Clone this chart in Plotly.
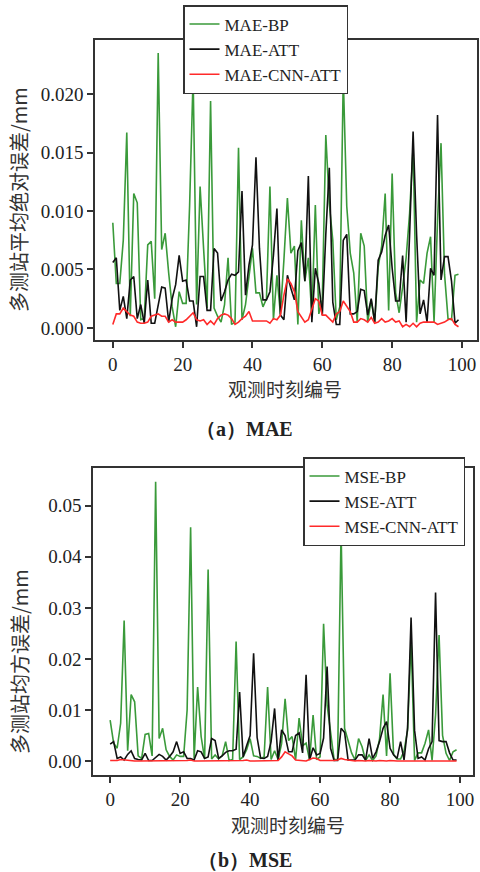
import plotly.graph_objects as go

x_idx = list(range(100))

mae_bp = [0.0090,0.0038,0.0038,0.0075,0.0167,0.0010,0.0115,0.0107,0.0007,0.0008,
          0.0071,0.0074,0.0025,0.0235,0.0067,0.0081,0.0047,0.0018,0.0001,0.0031,
          0.0021,0.0021,0.0105,0.0215,0.0020,0.0121,0.0068,0.0017,0.0194,0.0017,
          0.0010,0.0005,0.0020,0.0060,0.0003,0.0005,0.0154,0.0007,0.0020,0.0045,
          0.0068,0.0030,0.0030,0.0018,0.0025,0.0121,0.0007,0.0045,0.0012,0.0058,
          0.0111,0.0064,0.0070,0.0003,0.0092,0.0040,0.0060,0.0010,0.0105,0.0012,
          0.0024,0.0165,0.0106,0.0075,0.0007,0.0018,0.0215,0.0104,0.0064,0.0047,
          0.0005,0.0081,0.0070,0.0005,0.0024,0.0005,0.0052,0.0070,0.0115,0.0015,
          0.0132,0.0030,0.0013,0.0035,0.0060,0.0098,0.0155,0.0005,0.0041,0.0038,
          0.0064,0.0078,0.0005,0.0092,0.0158,0.0046,0.0008,0.0007,0.0045,0.0046]

mae_att = [0.0056,0.0060,0.0015,0.0027,0.0008,0.0041,0.0044,0.0008,0.0020,0.0004,
           0.0041,0.0004,0.0004,0.0020,0.0035,0.0034,0.0005,0.0025,0.0037,0.0062,
           0.0040,0.0041,0.0023,0.0023,0.0001,0.0044,0.0044,0.0015,0.0015,0.0068,
           0.0064,0.0023,0.0031,0.0041,0.0046,0.0045,0.0048,0.0117,0.0028,0.0054,
           0.0071,0.0146,0.0068,0.0024,0.0024,0.0031,0.0062,0.0102,0.0011,0.0007,
           0.0045,0.0034,0.0024,0.0066,0.0073,0.0040,0.0130,0.0005,0.0051,0.0038,
           0.0011,0.0080,0.0137,0.0022,0.0003,0.0003,0.0075,0.0080,0.0012,0.0012,
           0.0014,0.0033,0.0032,0.0011,0.0025,0.0005,0.0058,0.0065,0.0079,0.0088,
           0.0051,0.0023,0.0023,0.0062,0.0005,0.0080,0.0168,0.0080,0.0012,0.0024,
           0.0005,0.0051,0.0045,0.0182,0.0041,0.0061,0.0061,0.0040,0.0004,0.0007]

mae_cnn_att = [0.0003,0.0012,0.0012,0.0017,0.0014,0.0011,0.0010,0.0005,0.0004,0.0004,
               0.0005,0.0010,0.0011,0.0012,0.0010,0.0010,0.0005,0.0007,0.0005,0.0005,
               0.0005,0.0007,0.0010,0.0013,0.0007,0.0006,0.0007,0.0003,0.0006,0.0003,
               0.0008,0.0011,0.0012,0.0011,0.0008,0.0003,0.0005,0.0008,0.0010,0.0014,
               0.0006,0.0006,0.0006,0.0006,0.0006,0.0004,0.0008,0.0007,0.0011,0.0028,
               0.0042,0.0038,0.0031,0.0014,0.0010,0.0005,0.0007,0.0017,0.0025,0.0023,
               0.0011,0.0011,0.0008,0.0005,0.0012,0.0014,0.0023,0.0018,0.0014,0.0005,
               0.0005,0.0008,0.0007,0.0005,0.0009,0.0004,0.0005,0.0008,0.0005,0.0006,
               0.0008,0.0005,0.0006,0.0001,0.0003,0.0001,0.0004,0.0001,0.0004,0.0005,
               0.0005,0.0005,0.0005,0.0003,0.0004,0.0005,0.0007,0.0008,0.0003,0.0001]

mse_bp = [0.0080,0.0035,0.0025,0.0074,0.0275,0.0020,0.0130,0.0116,0.0010,0.0005,
          0.0052,0.0054,0.0010,0.0547,0.0044,0.0064,0.0022,0.0009,0.0002,0.0012,
          0.0009,0.0009,0.0100,0.0458,0.0005,0.0145,0.0048,0.0004,0.0375,0.0004,
          0.0012,0.0004,0.0010,0.0038,0.0001,0.0003,0.0234,0.0003,0.0008,0.0022,
          0.0044,0.0010,0.0009,0.0005,0.0008,0.0145,0.0003,0.0020,0.0003,0.0034,
          0.0122,0.0040,0.0048,0.0002,0.0084,0.0030,0.0035,0.0002,0.0090,0.0003,
          0.0008,0.0269,0.0110,0.0056,0.0003,0.0003,0.0453,0.0064,0.0038,0.0016,
          0.0002,0.0044,0.0028,0.0001,0.0012,0.0001,0.0010,0.0044,0.0130,0.0010,
          0.0172,0.0013,0.0004,0.0004,0.0020,0.0060,0.0237,0.0001,0.0016,0.0016,
          0.0035,0.0061,0.0001,0.0090,0.0247,0.0050,0.0015,0.0001,0.0018,0.0022]

mse_att = [0.0033,0.0038,0.0005,0.0008,0.0002,0.0013,0.0020,0.0005,0.0003,0.0002,
           0.0015,0.0001,0.0001,0.0008,0.0013,0.0009,0.0002,0.0009,0.0018,0.0038,
           0.0015,0.0018,0.0005,0.0005,0.0002,0.0020,0.0018,0.0005,0.0008,0.0044,
           0.0040,0.0005,0.0010,0.0017,0.0020,0.0020,0.0023,0.0135,0.0008,0.0030,
           0.0050,0.0211,0.0046,0.0006,0.0005,0.0009,0.0038,0.0103,0.0002,0.0061,
           0.0050,0.0018,0.0018,0.0050,0.0055,0.0016,0.0169,0.0002,0.0026,0.0012,
           0.0015,0.0045,0.0185,0.0025,0.0001,0.0001,0.0064,0.0056,0.0002,0.0002,
           0.0002,0.0012,0.0012,0.0002,0.0044,0.0005,0.0018,0.0038,0.0064,0.0077,
           0.0025,0.0012,0.0005,0.0038,0.0002,0.0065,0.0281,0.0060,0.0005,0.0008,
           0.0002,0.0024,0.0038,0.0330,0.0040,0.0038,0.0038,0.0016,0.0002,0.0002]

mse_cnn_att = [0.0001,0.0001,0.0001,0.0003,0.0002,0.0001,0.0001,0.0000,0.0000,0.0000,
               0.0000,0.0001,0.0001,0.0001,0.0001,0.0001,0.0000,0.0000,0.0000,0.0000,
               0.0000,0.0000,0.0001,0.0002,0.0000,0.0000,0.0000,0.0000,0.0000,0.0000,
               0.0001,0.0001,0.0001,0.0001,0.0001,0.0000,0.0000,0.0001,0.0001,0.0002,
               0.0000,0.0000,0.0000,0.0000,0.0000,0.0000,0.0001,0.0000,0.0001,0.0008,
               0.0018,0.0014,0.0010,0.0002,0.0001,0.0000,0.0000,0.0003,0.0006,0.0005,
               0.0001,0.0001,0.0001,0.0000,0.0001,0.0002,0.0005,0.0003,0.0002,0.0000,
               0.0000,0.0001,0.0000,0.0000,0.0001,0.0000,0.0000,0.0001,0.0000,0.0000,
               0.0001,0.0000,0.0000,0.0000,0.0000,0.0000,0.0000,0.0000,0.0000,0.0000,
               0.0000,0.0000,0.0000,0.0000,0.0000,0.0000,0.0000,0.0001,0.0000,0.0000]

names_top = ["MAE-BP", "MAE-ATT", "MAE-CNN-ATT"]
names_bot = ["MSE-BP", "MSE-ATT", "MSE-CNN-ATT"]
colors = ["#3a9a3a", "#111111", "#ff2a2a"]
widths = [1.6, 1.6, 1.6]

W, H = 480, 872
SERIF = "Liberation Serif"
CJK = "Noto Sans CJK SC"

fig = go.Figure()
for name, ys, c, w in zip(names_top, [mae_bp, mae_att, mae_cnn_att], colors, widths):
    fig.add_trace(go.Scatter(x=x_idx, y=ys, mode="lines", name=name,
                             line=dict(color=c, width=w), xaxis="x", yaxis="y",
                             legend="legend"))
for name, ys, c, w in zip(names_bot, [mse_bp, mse_att, mse_cnn_att], colors, widths):
    fig.add_trace(go.Scatter(x=x_idx, y=ys, mode="lines", name=name,
                             line=dict(color=c, width=w), xaxis="x2", yaxis="y2",
                             legend="legend2"))

axis_common = dict(showline=True, linecolor="#333333", linewidth=1.5, mirror=True,
                   ticks="outside", ticklen=6, tickwidth=1.5, tickcolor="#333333",
                   showgrid=False, zeroline=False,
                   tickfont=dict(family=SERIF, size=19, color="#222222"))

def px_x(p):
    return p / W

def px_y(p):
    return (H - p) / H

fig.update_layout(
    width=W, height=H,
    margin=dict(l=0, r=0, t=0, b=0),
    paper_bgcolor="white", plot_bgcolor="white",
    xaxis=dict(domain=[px_x(95), px_x(477)], range=[-5.1, 104.3],
               tickvals=[0, 20, 40, 60, 80, 100], anchor="y", **axis_common),
    yaxis=dict(domain=[px_y(340), px_y(40)], range=[-0.00103, 0.02462],
               tickvals=[0, 0.005, 0.010, 0.015, 0.020], tickformat=".3f",
               anchor="x", **axis_common),
    xaxis2=dict(domain=[px_x(93), px_x(473)], range=[-4.9, 103.7],
                tickvals=[0, 20, 40, 60, 80, 100], anchor="y2", **axis_common),
    yaxis2=dict(domain=[px_y(775), px_y(468)], range=[-0.00274, 0.0574],
                tickvals=[0, 0.01, 0.02, 0.03, 0.04, 0.05], tickformat=".2f",
                anchor="x2", **axis_common),
    legend=dict(x=px_x(183), y=px_y(5), xanchor="left", yanchor="top",
                bgcolor="white", bordercolor="#333333", borderwidth=1.5,
                font=dict(family=SERIF, size=17, color="#222222"),
                tracegroupgap=0, itemwidth=30),
    legend2=dict(x=px_x(303), y=px_y(457), xanchor="left", yanchor="top",
                 bgcolor="white", bordercolor="#333333", borderwidth=1.5,
                 font=dict(family=SERIF, size=17, color="#222222"),
                 tracegroupgap=0, itemwidth=30),
    showlegend=True,
)

annos = [
    dict(text="多测站平均绝对误差/mm", x=px_x(19), y=px_y(200), textangle=-90,
         font=dict(family=CJK, size=20, color="#333333")),
    dict(text="多测站均方误差/mm", x=px_x(19), y=px_y(662), textangle=-90,
         font=dict(family=CJK, size=20, color="#333333")),
    dict(text="观测时刻编号", x=px_x(285), y=px_y(389),
         font=dict(family=CJK, size=19, color="#333333")),
    dict(text="观测时刻编号", x=px_x(288), y=px_y(824),
         font=dict(family=CJK, size=19, color="#333333")),
    dict(text="<b>（a）MAE</b>", x=px_x(245), y=px_y(429),
         font=dict(family=SERIF, size=20, color="#222222")),
    dict(text="<b>（b）MSE</b>", x=px_x(245), y=px_y(860),
         font=dict(family=SERIF, size=20, color="#222222")),
]
for a in annos:
    fig.add_annotation(xref="paper", yref="paper", showarrow=False,
                       xanchor="center", yanchor="middle", **a)

fig.write_html("out.html")
